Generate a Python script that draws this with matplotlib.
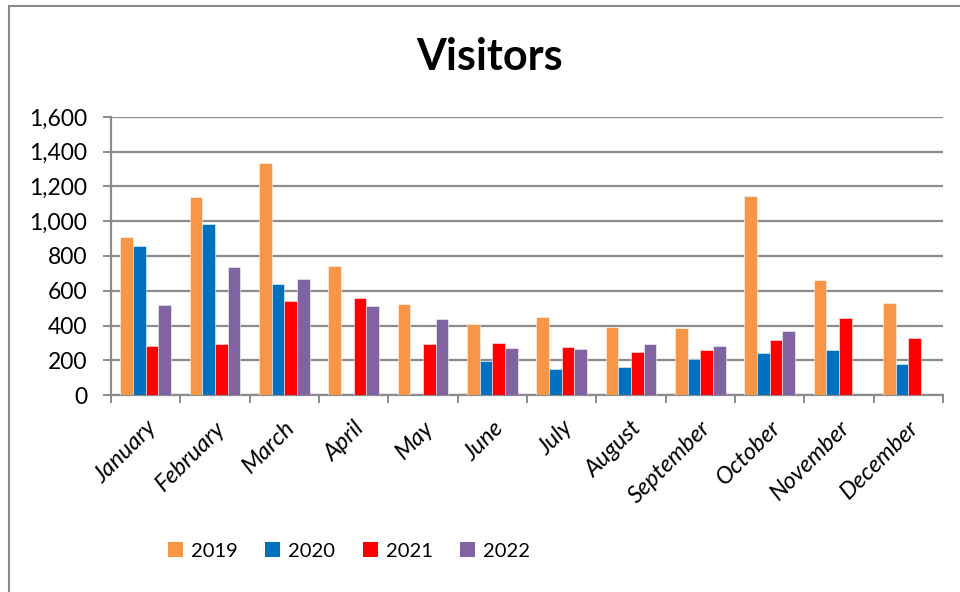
import numpy as np
import matplotlib
matplotlib.use('Agg')
import matplotlib.pyplot as plt
from matplotlib.patches import Patch
from matplotlib.ticker import FuncFormatter, FixedLocator
from matplotlib.lines import Line2D

plt.rcParams['font.family'] = ['Lato', 'DejaVu Sans']

# data
months = ['January', 'February', 'March', 'April', 'May', 'June', 'July',
          'August', 'September', 'October', 'November', 'December']
years = ['2019', '2020', '2021', '2022']
v2019 = [910, 1137, 1336, 743, 522, 411, 449, 392, 386, 1146, 659, 532]
v2020 = [860, 985, 641, 0, 0, 196, 148, 159, 205, 244, 259, 180]
v2021 = [282, 296, 543, 557, 296, 298, 275, 248, 261, 319, 442, 330]
v2022 = [520, 739, 666, 511, 440, 269, 263, 294, 284, 369, 0, 0]
colors = ['#F79646', '#0070C0', '#FF0000', '#8064A2']

grid_col = '#8C8C8C'

fig = plt.figure(figsize=(9.6, 5.92), dpi=100)
ax = fig.add_axes([111 / 960, 1 - 395 / 592, (943 - 111) / 960, (395 - 117) / 592])

x = np.arange(len(months))
w = 0.183
for i, vals in enumerate([v2019, v2020, v2021, v2022]):
    ax.bar(x + (i - 1.5) * w, vals, width=w, color=colors[i],
           edgecolor=(1, 1, 1, 0.6), linewidth=0.6, zorder=3)

ax.set_xlim(-0.5, 11.5)
ax.set_ylim(0, 1600)
ax.set_yticks(np.arange(0, 1601, 200))
ax.yaxis.set_major_formatter(FuncFormatter(lambda v, p: f'{int(v):,}'))
ax.grid(axis='y', color=grid_col, linewidth=1.6, zorder=0)
ax.set_axisbelow(True)

ax.set_xticks(x)
ax.set_xticklabels(months, rotation=45, ha='right', rotation_mode='anchor',
                   fontsize=17, style='italic')
ax.tick_params(axis='x', which='major', length=0, pad=16)
ax.xaxis.set_minor_locator(FixedLocator(np.arange(-0.5, 12, 1)))
ax.tick_params(axis='x', which='minor', length=6, width=1.4, color=grid_col,
               direction='out')
ax.tick_params(axis='y', length=6, width=1.4, color=grid_col, labelsize=16.5,
               pad=11)

for s in ['top', 'right']:
    ax.spines[s].set_visible(False)
for s in ['left', 'bottom']:
    ax.spines[s].set_color(grid_col)
    ax.spines[s].set_linewidth(1.6)

fig.text(490 / 960, 1 - 57 / 592, 'Visitors', fontsize=31, fontweight='bold',
         ha='center', va='center')

handles = [Patch(facecolor=c, edgecolor='none') for c in colors]
fig.legend(handles, years, loc='center left', bbox_to_anchor=(150 / 960, 1 - 551 / 592),
           ncol=4, frameon=False, fontsize=14.5, handlelength=0.75, handleheight=0.75,
           handletextpad=0.4, columnspacing=1.35)

# outer chart border
fig.add_artist(Line2D([8.5 / 960, 8.5 / 960], [0, 1 - 5.5 / 592],
                      transform=fig.transFigure, color='#8A8A8A', linewidth=1.5))
fig.add_artist(Line2D([8.5 / 960, 1], [1 - 5.5 / 592, 1 - 5.5 / 592],
                      transform=fig.transFigure, color='#8A8A8A', linewidth=1.5))

fig.savefig('out.png', dpi=100)
